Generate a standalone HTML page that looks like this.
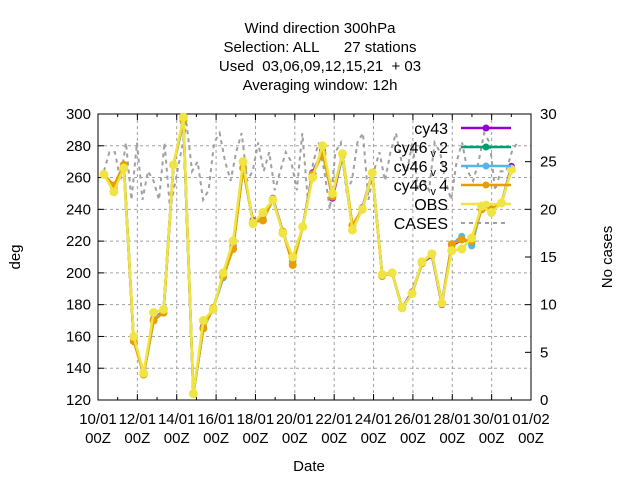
<!DOCTYPE html>
<html><head><meta charset="utf-8"><style>
body{margin:0;background:#fff}
svg{font-family:"Liberation Sans",sans-serif;font-size:15px}
text{white-space:pre}
</style></head><body>
<svg id="c" width="640" height="480" xmlns="http://www.w3.org/2000/svg">
<g text-anchor="middle" font-size="15">
<text x="320" y="33">Wind direction 300hPa</text>
<text x="320" y="52">Selection: ALL      27 stations</text>
<text x="320" y="71">Used  03,06,09,12,15,21  + 03</text>
<text x="320" y="90">Averaging window: 12h</text>
</g>
<g id="grid"></g><g id="axes"></g><g id="series"></g><g id="legend"></g>
<text x="309" y="471" text-anchor="middle">Date</text>
<text transform="translate(20,257) rotate(-90)" text-anchor="middle">deg</text>
<text transform="translate(612,257) rotate(-90)" text-anchor="middle">No cases</text>
</svg>
<script>
const xLabels=["10/01","12/01","14/01","16/01","18/01","20/01","22/01","24/01","26/01","28/01","30/01","01/02"];
const yTicks=[120,140,160,180,200,220,240,260,280,300];
const y2Ticks=[0,5,10,15,20,25,30];
const obs=[262,251,266,160,137,175,177,268,298,124,170,177,200,220,270,231,238,246,225,210,229,260,280,250,275,227,240,263,199,200,178,187,207,212,181,214,215,222,242,238,244,265];
const cy46v4=[262,255,268,157,136,170,175,268,296,124,165,178,198,215,266,232,233,246,226,205,229,262,275,248,275,230,240,263,198,200,178,187,206,212,181,218,221,220,240,240,244,265];
const cy46v3=[262,254,268,158,136,170,176,268,295,124,165,178,197,216,266,232,234,246,226,207,229,262,276,249,275,228,240,263,199,200,178,187,206,212,181,218,223,217,241,240,244,266];
const cy46v2=[262,254,268,158,136,170,176,268,295,124,165,178,197,216,266,232,234,246,226,207,229,262,276,249,274,228,240,263,199,200,178,187,206,212,181,218,222,218,241,240,244,266];
const cy43=[262,253,267,158,137,171,176,268,296,124,166,178,197,217,266,233,234,247,226,208,229,263,277,247,274,228,241,263,199,200,178,188,206,211,180,217,221,219,241,240,244,267];
const cases=[24,26,26,23,27,21,27,21,24,23,21,27,20,23,26,29,24,25,21,22,27,28,25,23,26,28,23,24,27,24,26,22,24,26,25,22,28,21,25,27,24,20,26,27,22,23,27,28,21,24,26,23,26,28,25,24,27,22,23,22,27,26,23,21,25,27,24,23,25,28,27,22,24,24,26,27];
const X0=98,X1=531,YT=114,YB=400,NS="http://www.w3.org/2000/svg";
const xs=d=>X0+d/22*(X1-X0);
const ys=v=>YB-(v-120)/180*(YB-YT);
const y2=v=>YB-v/30*(YB-YT);
const tOf=i=>0.3+i*0.505;
function mk(p,t,a){const e=document.createElementNS(NS,t);for(const k in a)e.setAttribute(k,a[k]);p.appendChild(e);return e;}
const G=document.getElementById('grid'),A=document.getElementById('axes'),S=document.getElementById('series'),L=document.getElementById('legend');
yTicks.forEach(v=>{const y=ys(v);
 const g=mk(G,'line',{x1:X0,x2:X1,y1:y,y2:y,stroke:'#a0a0a0','stroke-dasharray':'3,3'});
 
 
 mk(A,'line',{x1:X0,x2:X0+6,y1:y,y2:y,stroke:'#000'});
 const t=mk(A,'text',{x:X0-7,y:y+5,'text-anchor':'end'});t.textContent=v;
 
 });
y2Ticks.forEach(v=>{const y=y2(v);
 mk(A,'line',{x1:X1-6,x2:X1,y1:y,y2:y,stroke:'#000'});
 const t=mk(A,'text',{x:X1+9,y:y+5});t.textContent=v;
 
 });
xLabels.forEach((lab,i)=>{const x=xs(i*2);
 const g=mk(G,'line',{x1:x,x2:x,y1:YT,y2:YB,stroke:'#a0a0a0','stroke-dasharray':'3,3'});
 
 
 mk(A,'line',{x1:x,x2:x,y1:YB,y2:YB-6,stroke:'#000'});mk(A,'line',{x1:x,x2:x,y1:YT,y2:YT+6,stroke:'#000'});
 const t=mk(A,'text',{x:x,y:424,'text-anchor':'middle'});t.textContent=lab;
 
 
 const t2=mk(A,'text',{x:x,y:443,'text-anchor':'middle'});t2.textContent='00Z';
 
 });
for(let d=1;d<22;d+=2){const x=xs(d);mk(A,'line',{x1:x,x2:x,y1:YB,y2:YB-3,stroke:'#000'});mk(A,'line',{x1:x,x2:x,y1:YT,y2:YT+3,stroke:'#000'});}
const fr=mk(A,'rect',{x:X0,y:YT,width:X1-X0,height:YB-YT,fill:'none',stroke:'#000'});


const cp=mk(S,'polyline',{points:cases.map((c,i)=>xs(0.3+i*21/(cases.length-1))+','+y2(c)).join(' '),fill:'none',stroke:'#a0a0a0','stroke-width':2,'stroke-dasharray':'4,4'});


const defs=[["cy43",cy43,"#9400d3",3.5],["cy46 v 2",cy46v2,"#009e73",3.5],["cy46 v 3",cy46v3,"#56b4e9",3.5],["cy46 v 4",cy46v4,"#e69f00",4],["OBS",obs,"#f0e442",4.5]];
defs.forEach(([n,arr,col,r])=>{const g=mk(S,'g',{});
 
 
 mk(g,'polyline',{points:arr.map((v,i)=>xs(tOf(i))+','+ys(v)).join(' '),fill:'none',stroke:col,'stroke-width':2.5});
 arr.forEach((v,i)=>{const c=mk(g,'circle',{cx:xs(tOf(i)),cy:ys(v),r:r,fill:col});
 
 });});
const names=["cy43","cy46","cy46","cy46","OBS","CASES"],subs=["","v","v","v","",""],tails=["","2","3","4","",""];
const cols=["#9400d3","#009e73","#56b4e9","#e69f00","#f0e442","#a0a0a0"];
names.forEach((n,i)=>{const y=128+i*19;const g=mk(L,'g',{});
 
 
 const t=mk(g,'text',{x:448,y:y+6,'text-anchor':'end','font-size':16});
 t.textContent=n;
 if(subs[i]){const s=mk(t,'tspan',{'font-size':11,dy:4});s.textContent=' '+subs[i]+' ';const s2=mk(t,'tspan',{dy:-4});s2.textContent=tails[i];}
 if(i<5){mk(g,'line',{x1:461,x2:511,y1:y,y2:y,stroke:cols[i],'stroke-width':2.5});mk(g,'circle',{cx:486,cy:y,r:3.5,fill:cols[i]});}
 else mk(g,'line',{x1:461,x2:505,y1:y,y2:y,stroke:cols[i],'stroke-width':2,'stroke-dasharray':'4,4'});});
</script>
</body></html>
